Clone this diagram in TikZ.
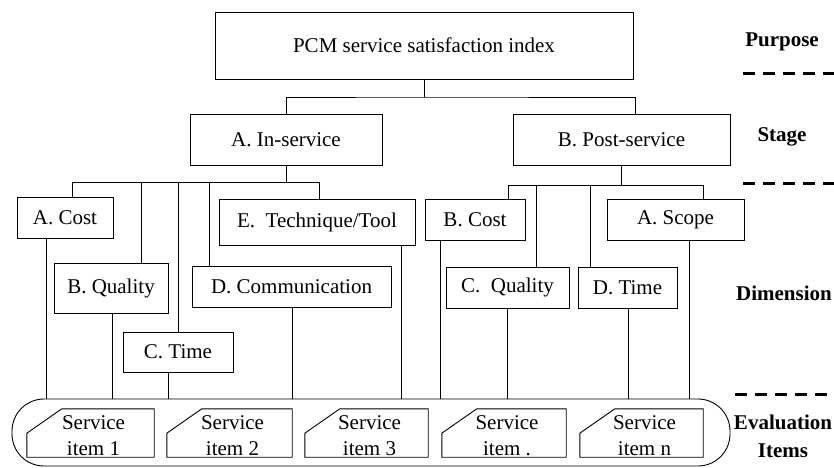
\documentclass[tikz,border=0pt]{standalone}
\usepackage{fontspec}
\setmainfont{Liberation Serif}
\begin{document}
\begin{tikzpicture}[x=1pt,y=-1pt,
  every node/.style={font=\fontsize{21}{26}\selectfont},
  box/.style 2 args={draw,line width=0.9pt,inner sep=0pt,minimum width=#1,minimum height=#2},
  itembox/.style={inner sep=0pt,minimum width=#1,minimum height=48pt},
  itemtext/.style={inner sep=0pt,align=center},
  link/.style={line width=0.9pt},
  level/.style={font=\fontsize{21}{28}\selectfont\bfseries,align=center},
  sep/.style={line width=3pt,dash pattern=on 12pt off 8pt}]
\fill[white] (0,0) rectangle (834,467);
\useasboundingbox (0,0) rectangle (834,467);

% hierarchy boxes
\node[box={418pt}{67pt}] (top) at (424,45.5) {PCM service satisfaction index};
\node[box={192pt}{51pt}] (ains) at (286,139.5) {A. In-service};
\node[box={217pt}{51pt}] (bpost) at (621.5,139.5) {B. Post-service};

\node[box={96pt}{41pt}]  (acost) at (65,217.5) {A. Cost};
\node[box={196pt}{46pt}] (etech) at (317,222) {E.\ \ Technique/Tool};
\node[box={114pt}{50pt}] (bqual) at (111,288) {B. Quality};
\node[box={199pt}{41pt}] (dcomm) at (291.5,286.5) {D. Communication};
\node[box={110pt}{40pt}] (ctime) at (178,352) {C. Time};

\node[box={100pt}{41pt}] (bcost) at (475,219.5) {B. Cost};
\node[box={137pt}{41pt}] (ascope) at (675.5,219.5) {A. Scope};
\node[box={123pt}{41pt}] (cqual) at (507.5,287.5) {C.\ \ Quality};
\node[box={99pt}{41pt}]  (dtime) at (627.5,287.5) {D. Time};

% container of the evaluation items
\node[draw,line width=0.9pt,rounded corners=32pt,minimum width=718pt,minimum height=67pt,inner sep=0pt] (pool) at (371,432.5) {};

% evaluation items (rectangles with a cut upper-left corner)
\foreach \n/\cx/\w/\t in {s1/90.5/127/1, s2/229.5/125/2, s3/366.5/123/3, s4/504/124/., s5/641.5/123/n}{
  \node[itembox=\w pt] (\n) at (\cx,433) {};
  \draw[link] (\n.south west) -- ([yshift=24pt]\n.south west) -- ([xshift=35pt]\n.north west)
    -- (\n.north east) -- (\n.south east) -- cycle;
  \node[itemtext] (\n-t) at ([xshift=3pt,yshift=-3pt]\n.center) {Service\\item \t};
}

% purpose -> stages
\coordinate (j0) at (424,97);
\draw[link] (top.south) -- (j0);
\draw[link] (ains.north) |- (j0) -| ([xshift=13.5pt]bpost.north);

% in-service dimensions
\coordinate (l1) at (72,182);
\coordinate (l2) at (141,182);
\coordinate (l3) at (178,182);
\coordinate (l4) at (209,182);
\coordinate (l5) at (319,182);
\draw[link] (ains.south) -- (ains.south |- l1);
\draw[link] (l1) -- (l5);
\draw[link] (l1) -- (l1 |- acost.north);
\draw[link] (l2) -- (l2 |- bqual.north);
\draw[link] (l3) -- (l3 |- ctime.north);
\draw[link] (l4) -- (l4 |- dcomm.north);
\draw[link] (l5) -- (l5 |- etech.north);

% post-service dimensions
\coordinate (r1) at (508,185);
\coordinate (r2) at (536,185);
\coordinate (r3) at (590,185);
\coordinate (r4) at (703,185);
\draw[link] (bpost.south) -- (bpost.south |- r1);
\draw[link] (r1) -- (r4);
\draw[link] (r1) -- (r1 |- bcost.north);
\draw[link] (r2) -- (r2 |- cqual.north);
\draw[link] (r3) -- (r3 |- dtime.north);
\draw[link] (r4) -- (r4 |- ascope.north);

% dimensions -> evaluation items
\coordinate (d1) at (46,399);
\coordinate (d2) at (112,399);
\coordinate (d3) at (168,399);
\coordinate (d4) at (292,399);
\coordinate (d5) at (401,399);
\coordinate (d6) at (440,399);
\coordinate (d7) at (507,399);
\coordinate (d8) at (628,399);
\coordinate (d9) at (689,399);
\draw[link] (d1 |- acost.south) -- (d1);
\draw[link] (d2 |- bqual.south) -- (d2);
\draw[link] (d3 |- ctime.south) -- (d3);
\draw[link] (d4 |- dcomm.south) -- (d4);
\draw[link] (d5 |- etech.south) -- (d5);
\draw[link] (d6 |- bcost.south) -- (d6);
\draw[link] (d7 |- cqual.south) -- (d7);
\draw[link] (d8 |- dtime.south) -- (d8);
\draw[link] (d9 |- ascope.south) -- (d9);

% level labels and separators
\node[level] (lp) at (782,42) {Purpose};
\node[level] (ls) at (782,137) {Stage};
\node[level] (ld) at (784,293) {Dimension};
\node[level] (le) at (783,436) {Evaluation\\Items};
\draw[sep] (743,73) -- (834,73);
\draw[sep] (743,183) -- (834,183);
\draw[sep] (735,394) -- (834,394);
\end{tikzpicture}
\end{document}
